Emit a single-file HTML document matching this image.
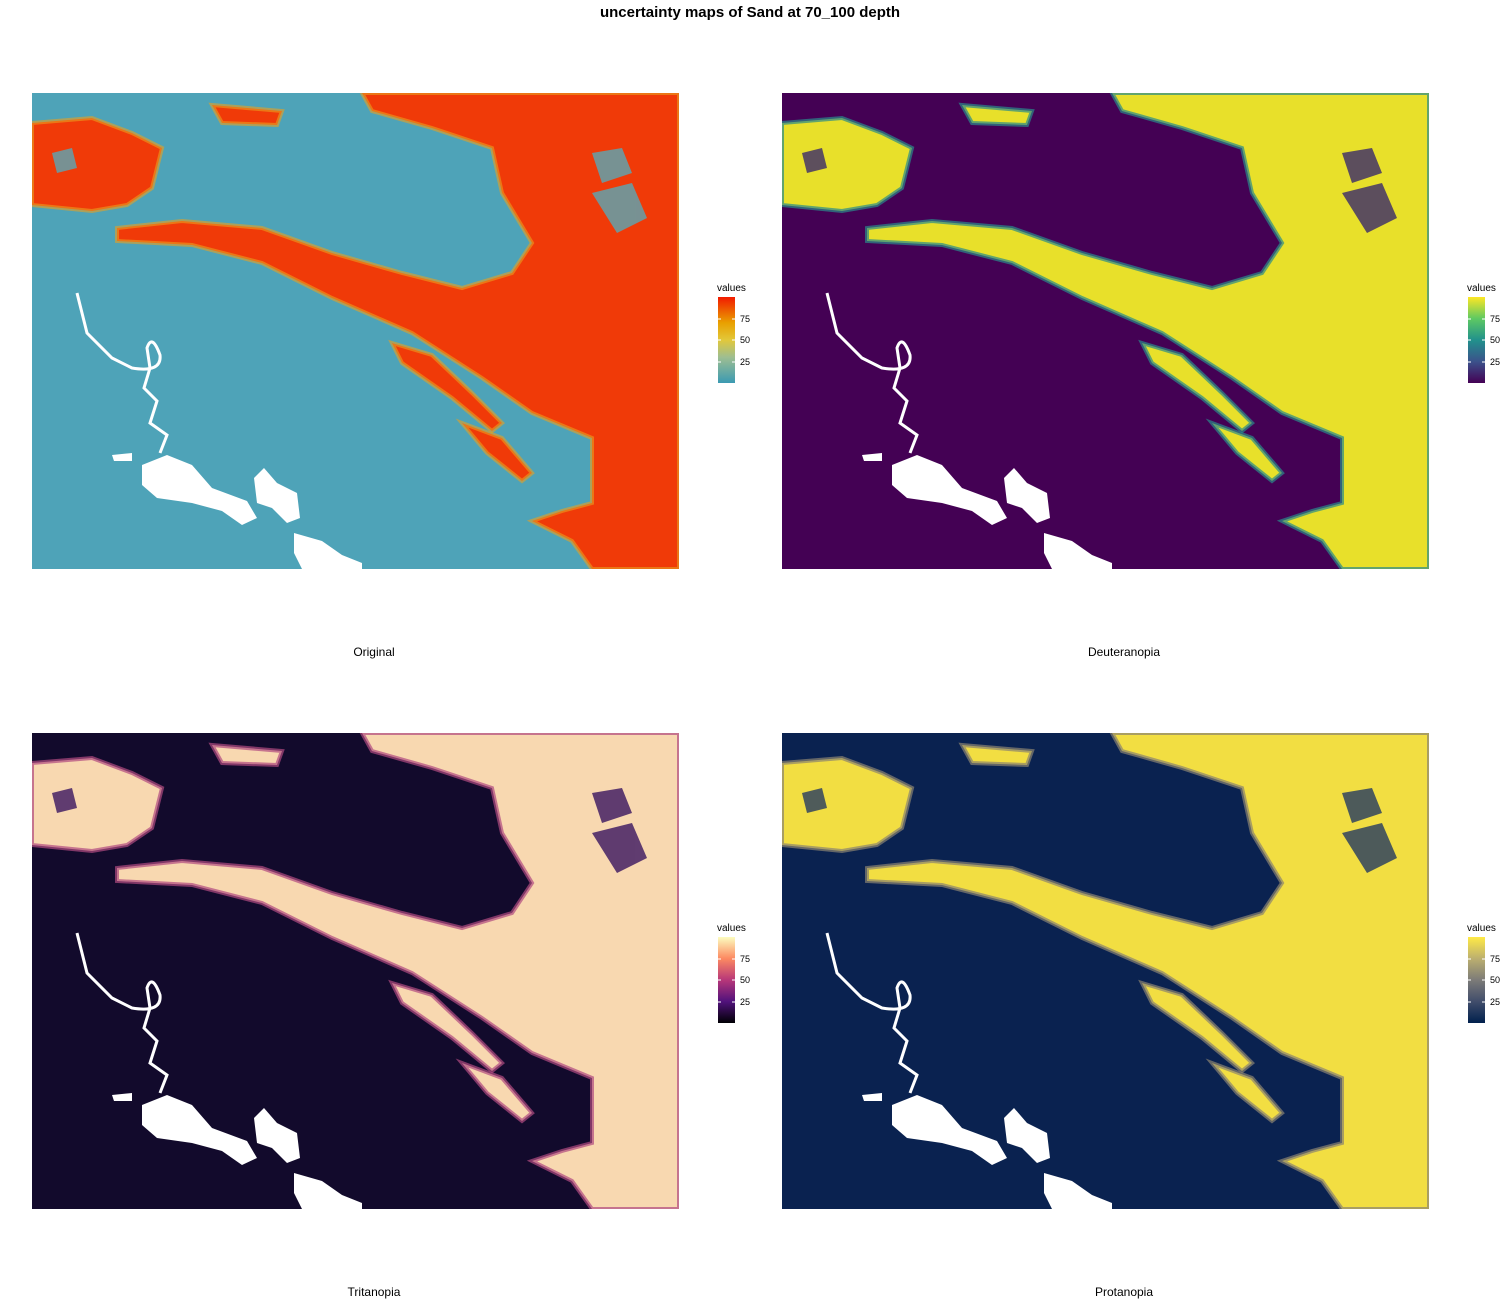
<!DOCTYPE html>
<html><head><meta charset="utf-8"><style>
body{margin:0;background:#fff;width:1500px;height:1300px;overflow:hidden;font-family:"Liberation Sans",sans-serif}
</style></head><body>
<svg width="1500" height="1300" viewBox="0 0 1500 1300" xmlns="http://www.w3.org/2000/svg" font-family="Liberation Sans, sans-serif">
<defs>
<clipPath id="cp"><rect width="647" height="476"/></clipPath>
<g id="hi">
<polygon points="330,0 647,0 647,476 560,476 540,448 500,428 530,418 560,410 560,345 500,320 450,285 380,240 300,205 230,170 160,152 85,148 85,135 150,128 230,135 300,160 370,180 430,195 480,180 500,150 470,100 460,55 400,35 340,18"/>
<polygon points="0,30 60,25 100,40 130,55 120,95 95,112 60,118 0,112"/>
<polygon points="180,12 250,18 245,32 190,30"/>
<polygon points="360,250 400,262 440,300 470,330 460,338 420,305 370,270"/>
<polygon points="430,330 470,345 500,380 490,388 455,360"/>
</g>
<g id="lo">
<polygon points="560,60 590,55 600,80 570,90"/>
<polygon points="560,100 600,90 615,125 585,140"/>
<polygon points="20,60 40,55 45,75 25,80"/>
</g>
<g id="water" fill="#fff">
<path d="M45,200 L55,240 L80,265 L100,275 Q130,280 128,262 Q120,240 115,255 L118,275 L112,295 L125,308 L118,330 L135,342 L128,360" fill="none" stroke="#fff" stroke-width="3"/>
<polygon points="110,372 135,362 160,372 180,395 215,408 225,425 210,432 190,418 160,410 125,405 110,392"/>
<polygon points="222,385 232,375 245,390 265,400 268,425 255,430 240,415 225,410"/>
<polygon points="262,440 290,448 310,462 330,470 330,476 270,476 262,460"/>
<polygon points="80,362 100,360 100,368 82,368"/>
</g>
<linearGradient id="g1" x1="0" y1="1" x2="0" y2="0"><stop offset="0" stop-color="#3b9ab2"/><stop offset=".3" stop-color="#9ebe91"/><stop offset=".5" stop-color="#e2c83a"/><stop offset=".7" stop-color="#e9a000"/><stop offset="1" stop-color="#f21a00"/></linearGradient>
<linearGradient id="g2" x1="0" y1="1" x2="0" y2="0"><stop offset="0" stop-color="#440154"/><stop offset=".25" stop-color="#3b528b"/><stop offset=".5" stop-color="#21918c"/><stop offset=".75" stop-color="#5ec962"/><stop offset="1" stop-color="#fde725"/></linearGradient>
<linearGradient id="g3" x1="0" y1="1" x2="0" y2="0"><stop offset="0" stop-color="#000004"/><stop offset=".25" stop-color="#51127c"/><stop offset=".5" stop-color="#b73779"/><stop offset=".75" stop-color="#fc8961"/><stop offset="1" stop-color="#fcfdbf"/></linearGradient>
<linearGradient id="g4" x1="0" y1="1" x2="0" y2="0"><stop offset="0" stop-color="#00204d"/><stop offset=".25" stop-color="#414d6b"/><stop offset=".5" stop-color="#7c7b78"/><stop offset=".75" stop-color="#bcaf6f"/><stop offset="1" stop-color="#ffea46"/></linearGradient>
</defs>
<text x="750" y="17" text-anchor="middle" font-size="15" font-weight="bold">uncertainty maps of Sand at 70_100 depth</text>

<g transform="translate(32,93)" clip-path="url(#cp)">
<rect width="647" height="476" fill="#4ea3b8"/>
<use href="#hi" fill="#f03a08" stroke="#e8a020" stroke-width="4" stroke-opacity=".6"/>
<use href="#lo" fill="#5aa8b6" opacity=".8"/>
<use href="#water"/>
</g>
<g transform="translate(782,93)" clip-path="url(#cp)">
<rect width="647" height="476" fill="#440154"/>
<use href="#hi" fill="#e8e02a" stroke="#2a8a8a" stroke-width="4" stroke-opacity=".7"/>
<use href="#lo" fill="#3a2a6a" opacity=".8"/>
<use href="#water"/>
</g>
<g transform="translate(32,733)" clip-path="url(#cp)">
<rect width="647" height="476" fill="#120a2c"/>
<use href="#hi" fill="#f8d8b0" stroke="#b04a80" stroke-width="4" stroke-opacity=".7"/>
<use href="#lo" fill="#3a1560" opacity=".8"/>
<use href="#water"/>
</g>
<g transform="translate(782,733)" clip-path="url(#cp)">
<rect width="647" height="476" fill="#0a2250"/>
<use href="#hi" fill="#f2de42" stroke="#8a8370" stroke-width="4" stroke-opacity=".7"/>
<use href="#lo" fill="#253a60" opacity=".8"/>
<use href="#water"/>
</g>

<g font-size="12" fill="#000">
<text x="374" y="656" text-anchor="middle">Original</text>
<text x="1124" y="656" text-anchor="middle">Deuteranopia</text>
<text x="374" y="1296" text-anchor="middle">Tritanopia</text>
<text x="1124" y="1296" text-anchor="middle">Protanopia</text>
</g>

<g font-size="10">
<g transform="translate(717,0)">
<text x="0" y="291">values</text>
<rect x="1" y="297" width="17" height="86" fill="url(#g1)"/>
<path d="M1,319h3M15,319h3M1,340h3M15,340h3M1,362h3M15,362h3" stroke="#fff"/>
<text x="23" y="322" font-size="9">75</text><text x="23" y="343" font-size="9">50</text><text x="23" y="365" font-size="9">25</text>
</g>
<g transform="translate(1467,0)">
<text x="0" y="291">values</text>
<rect x="1" y="297" width="17" height="86" fill="url(#g2)"/>
<path d="M1,319h3M15,319h3M1,340h3M15,340h3M1,362h3M15,362h3" stroke="#fff"/>
<text x="23" y="322" font-size="9">75</text><text x="23" y="343" font-size="9">50</text><text x="23" y="365" font-size="9">25</text>
</g>
<g transform="translate(717,640)">
<text x="0" y="291">values</text>
<rect x="1" y="297" width="17" height="86" fill="url(#g3)"/>
<path d="M1,319h3M15,319h3M1,340h3M15,340h3M1,362h3M15,362h3" stroke="#fff"/>
<text x="23" y="322" font-size="9">75</text><text x="23" y="343" font-size="9">50</text><text x="23" y="365" font-size="9">25</text>
</g>
<g transform="translate(1467,640)">
<text x="0" y="291">values</text>
<rect x="1" y="297" width="17" height="86" fill="url(#g4)"/>
<path d="M1,319h3M15,319h3M1,340h3M15,340h3M1,362h3M15,362h3" stroke="#fff"/>
<text x="23" y="322" font-size="9">75</text><text x="23" y="343" font-size="9">50</text><text x="23" y="365" font-size="9">25</text>
</g>
</g>
</svg>
</body></html>
